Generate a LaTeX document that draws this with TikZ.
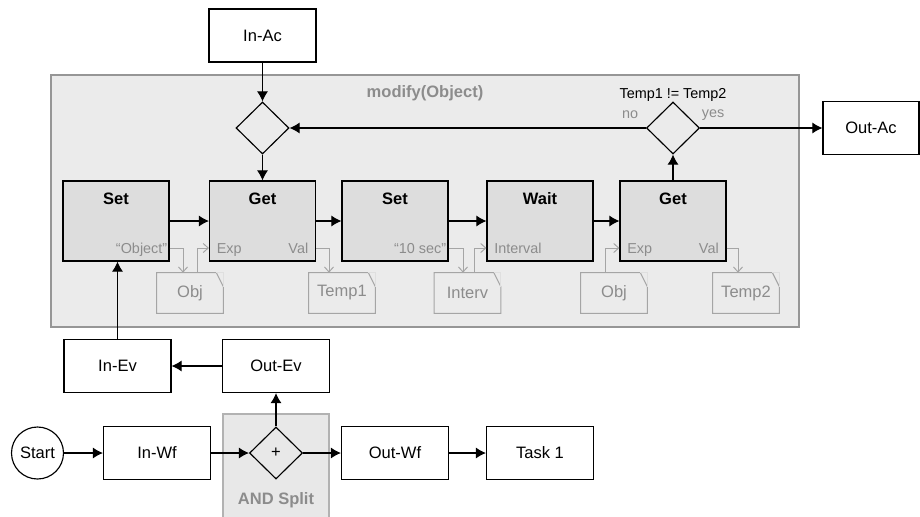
\documentclass[tikz,border=0pt]{standalone}
\usepackage{fontspec}
\setmainfont{Liberation Sans}
\setsansfont{Liberation Sans}
\usepackage{tikz}
\usetikzlibrary{arrows.meta,shapes.geometric,positioning}
\definecolor{panelfill}{RGB}{235,235,235}
\definecolor{paneldraw}{RGB}{150,150,150}
\definecolor{actfill}{RGB}{221,221,221}
\definecolor{graytxt}{RGB}{140,140,140}
\definecolor{docdraw}{RGB}{165,165,165}
\definecolor{andfill}{RGB}{232,232,232}
\definecolor{anddraw}{RGB}{178,178,178}
\newcommand{\mainfs}{\fontsize{9.4}{11}\selectfont}
\newcommand{\smallfs}{\fontsize{8.2}{10}\selectfont}
\tikzset{%
  >={Latex[width=2.2mm,length=2mm]},
            base/.style = {rectangle, draw=black, line width=0.65pt,
                           minimum width=2.14cm, minimum height=1.06cm,
                           text centered, font=\mainfs},
  box0/.style = {base, fill=white},
  box1/.style = {base, minimum width=2.12cm, minimum height=1.6cm, fill=actfill,
                 inner ysep=0pt, text height=0.46cm, text depth=1.14cm,
                 font=\mainfs\bfseries},
  gate/.style = {diamond, draw=black, line width=0.65pt, minimum width=1.06cm,
                 minimum height=1.04cm, inner sep=0pt, font=\mainfs},
  circ/.style = {circle, draw=black, line width=0.65pt, minimum size=1.04cm,
                 inner sep=0pt, fill=white, font=\mainfs},
  panel/.style = {rectangle, draw=paneldraw, line width=0.6pt, fill=panelfill,
                  minimum width=14.96cm, minimum height=5.04cm},
  andbox/.style = {rectangle, draw=anddraw, line width=0.6pt, fill=andfill,
                   minimum width=2.12cm, minimum height=2.16cm},
  docu/.style = {rectangle, minimum width=1.32cm, minimum height=0.8cm,
                 text=graytxt, font=\mainfs},
  port/.style = {inner ysep=0pt, inner xsep=0.15cm, text=graytxt, font=\smallfs,
                 text height=1.4ex, text depth=0.3ex},
  quote/.style = {port, inner xsep=0.04cm},
  void/.style = {inner sep=1pt, font=\mainfs},
  flow/.style = {->, line width=0.6pt},
  data/.style = {-{Straight Barb[length=1mm,width=1.8mm]}, draw=docdraw, line width=0.55pt},
  docline/.style = {draw=docdraw, line width=0.6pt},
  foldline/.style = {draw=docdraw!35, line width=0.5pt},
}
\begin{document}
\begin{tikzpicture}
  \useasboundingbox (0,0) rectangle (18.4,-10.32);

  % subprocess frame
  \node (onPanel)  [panel] at (8.5,-4.02) {};
  \node (onTitle)  [void, text=graytxt, font=\mainfs\bfseries] at (8.5,-1.86) {modify(Object)};

  \node (onInAc)   [box0] at (5.25,-0.71)  {In-Ac};
  \node (onMerge)  [gate] at (5.25,-2.56)  {};
  \node (onCheck)  [gate] at (13.46,-2.56) {};
  \node (onCond)   [void, font=\smallfs] at (13.46,-1.90) {Temp1 != Temp2};
  \node (onNo)     [void, text=graytxt, font=\smallfs] at (12.60,-2.30) {no};
  \node (onYes)    [void, text=graytxt, font=\smallfs] at (14.26,-2.30) {yes};
  \node (onOutAc)  [box0, minimum width=1.92cm] at (17.42,-2.56) {Out-Ac};

  \node (onSet1)   [box1] at (2.32,-4.42)  {Set};
  \node (onGet1)   [box1] at (5.25,-4.42)  {Get};
  \node (onSet2)   [box1] at (7.90,-4.42)  {Set};
  \node (onWait)   [box1] at (10.80,-4.42) {Wait};
  \node (onGet2)   [box1] at (13.46,-4.42) {Get};

  % parameters
  \node (onSet1Out) [quote, anchor=east] at ([yshift=-0.54cm]onSet1.east) {“Object”};
  \node (onGet1In)  [port, anchor=west]  at ([yshift=-0.54cm]onGet1.west) {Exp};
  \node (onGet1Out) [port, anchor=east]  at ([yshift=-0.54cm]onGet1.east) {Val};
  \node (onSet2Out) [quote, anchor=east] at ([yshift=-0.54cm]onSet2.east) {“10 sec”};
  \node (onWaitIn)  [port, anchor=west]  at ([yshift=-0.54cm]onWait.west) {Interval};
  \node (onGet2In)  [port, anchor=west]  at ([yshift=-0.54cm]onGet2.west) {Exp};
  \node (onGet2Out) [port, anchor=east]  at ([yshift=-0.54cm]onGet2.east) {Val};

  \node (onObj1)   [docu] at (3.80,-5.86)  {Obj};
  \node (onTemp1)  [docu] at (6.84,-5.86)  {Temp1};
  \node (onInterv) [docu] at (9.35,-5.86)  {Interv};
  \node (onObj2)   [docu] at (12.28,-5.86) {Obj};
  \node (onTemp2)  [docu] at (14.92,-5.86) {Temp2};
  \foreach \d in {onObj1,onTemp1,onInterv,onObj2,onTemp2}{
    \draw[docline] (\d.south west) -- (\d.north west) -- ([xshift=-0.14cm]\d.north east)
                   -- ([yshift=-0.28cm]\d.north east) -- (\d.south east) -- cycle;
    \draw[foldline] ([xshift=-0.14cm]\d.north east) -- (\d.north east)
                    -- ([yshift=-0.28cm]\d.north east);
  }

  % workflow
  \node (onInEv)   [box0] at (2.35,-7.32)  {In-Ev};
  \node (onOutEv)  [box0] at (5.52,-7.32)  {Out-Ev};
  \node (onAndBox) [andbox] at (5.52,-9.36) {};
  \node (onAndLbl) [void, text=graytxt, font=\mainfs\bfseries] at (5.52,-10.0) {AND Split};
  \node (onStart)  [circ] at (0.75,-9.06)  {Start};
  \node (onInWf)   [box0] at (3.14,-9.06)  {In-Wf};
  \node (onSplit)  [gate, fill=andfill] at (5.52,-9.06) {+};
  \node (onOutWf)  [box0] at (7.90,-9.06)  {Out-Wf};
  \node (onTask)   [box0] at (10.80,-9.06) {Task 1};

  \draw[flow] (onInAc) -- (onMerge);
  \draw[flow] (onMerge) -- (onGet1);
  \draw[flow] (onSet1) -- (onGet1);
  \draw[flow] (onGet1) -- (onSet2);
  \draw[flow] (onSet2) -- (onWait);
  \draw[flow] (onWait) -- (onGet2);
  \draw[flow] (onGet2) -- (onCheck);
  \draw[flow] (onCheck.west) -- (onMerge.east);
  \draw[flow] (onCheck.east) -- (onOutAc.west);

  \draw[data] (onSet1Out.east) -| ([xshift=-0.14cm]onObj1.north);
  \draw[data] ([xshift=0.14cm]onObj1.north) |- (onGet1In.west);
  \draw[data] (onGet1Out.east) -| ([xshift=-0.26cm]onTemp1.north);
  \draw[data] (onSet2Out.east) -| ([xshift=-0.09cm]onInterv.north);
  \draw[data] ([xshift=0.13cm]onInterv.north) |- (onWaitIn.west);
  \draw[data] ([xshift=-0.18cm]onObj2.north) |- (onGet2In.west);
  \draw[data] (onGet2Out.east) -| ([xshift=-0.16cm]onTemp2.north);

  \draw[flow] (onStart) -- (onInWf);
  \draw[flow] (onInWf) -- (onSplit);
  \draw[flow] (onSplit) -- (onOutWf);
  \draw[flow] (onOutWf) -- (onTask);
  \draw[flow] (onSplit) -- (onOutEv);
  \draw[flow] (onOutEv) -- (onInEv);
  \draw[flow] (onInEv.north) -- (onInEv.north |- onSet1.south);
\end{tikzpicture}
\end{document}
